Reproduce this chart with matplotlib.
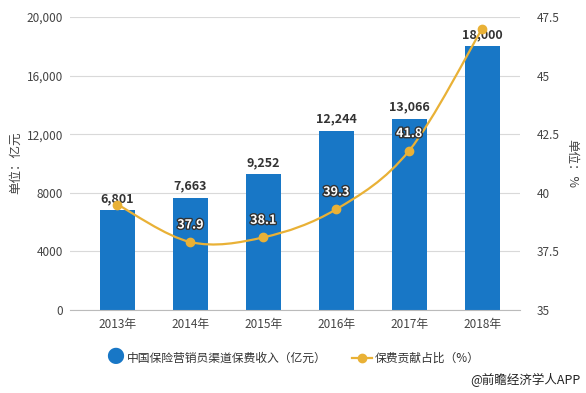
import matplotlib.pyplot as plt
from matplotlib.path import Path
from matplotlib.patches import PathPatch
import matplotlib.patheffects as pe
import numpy as np

plt.rcParams['font.family'] = ['Noto Sans CJK SC', 'DejaVu Sans']

years = ['2013年', '2014年', '2015年', '2016年', '2017年', '2018年']
income = [6801, 7663, 9252, 12244, 13066, 18000]
ratio = [39.5, 37.9, 38.1, 39.3, 41.8, 47.0]
left_ticks = [0, 4000, 8000, 12000, 16000, 20000]
left_labels = ['0', '4000', '8000', '12,000', '16,000', '20,000']
right_ticks = [35, 37.5, 40, 42.5, 45, 47.5]
right_labels = ['35', '37.5', '40', '42.5', '45', '47.5']

bar_color = '#1877c6'
line_color = '#e9b136'
text_color = '#444444'

fig = plt.figure(figsize=(5.86, 3.93), dpi=100)
ax = fig.add_axes([0.1195, 0.211, 0.768, 0.746])
x = np.arange(len(years))

ax.bar(x, income, width=0.48, color=bar_color, zorder=2)
for xi, v in zip(x, income):
    ax.text(xi, v + 350, f'{v:,}', ha='center', va='bottom', fontsize=9,
            fontweight='bold', color='#333333', zorder=5)

ax.set_ylim(0, 20000)
ax.set_xlim(-0.65, 5.52)
ax.set_yticks(left_ticks)
ax.set_yticklabels(left_labels)
ax.set_xticks(x)
ax.set_xticklabels(years)
ax.grid(axis='y', color='#d9d9d9', linewidth=0.8, zorder=0)
ax.tick_params(axis='both', length=0, labelsize=8.5, colors=text_color)
ax.tick_params(axis='y', pad=5)
ax.tick_params(axis='x', pad=6)
for s in ['top', 'right', 'left']:
    ax.spines[s].set_visible(False)
ax.spines['bottom'].set_color('#bbbbbb')

ax2 = ax.twinx()
ax2.set_ylim(35, 47.5)
ax2.set_yticks(right_ticks)
ax2.set_yticklabels(right_labels)
ax2.tick_params(axis='y', length=0, labelsize=8.5, colors=text_color, pad=12)
for s in ax2.spines.values():
    s.set_visible(False)

fig.text(0.026, 0.585, '单位：亿元', fontsize=9, color=text_color,
         rotation=90, ha='center', va='center')
fig.text(0.975, 0.585, '单位：%', fontsize=9, color=text_color,
         rotation=270, ha='center', va='center')

# smooth curve through the points (Catmull-Rom as cubic Bezier)
pts = np.column_stack([x, ratio]).astype(float)
verts = [tuple(pts[0])]
codes = [Path.MOVETO]
for i in range(len(pts) - 1):
    p0 = pts[i - 1] if i > 0 else pts[i]
    p1, p2 = pts[i], pts[i + 1]
    p3 = pts[i + 2] if i + 2 < len(pts) else pts[i + 1]
    c1 = p1 + (p2 - p0) / 6
    c2 = p2 - (p3 - p1) / 6
    verts += [tuple(c1), tuple(c2), tuple(p2)]
    codes += [Path.CURVE4] * 3
ax2.add_patch(PathPatch(Path(verts, codes), fill=False, edgecolor=line_color,
                        linewidth=1.6, zorder=3))
ax2.plot(x, ratio, 'o', color=line_color, markersize=6, zorder=4)
for xi, v in zip(x[1:-1], ratio[1:-1]):
    ax2.text(xi, v + 0.45, f'{v}', ha='center', va='bottom', fontsize=9,
             fontweight='bold', color='white', zorder=5,
             path_effects=[pe.withStroke(linewidth=2, foreground='#333333')])

# legend
ly = 0.089
fig.text(0.196, ly, '●', fontsize=13, color=bar_color, ha='center', va='center')
fig.text(0.217, ly, '中国保险营销员渠道保费收入（亿元）', fontsize=8.5,
         color='#333333', ha='left', va='center')
fig.lines.append(plt.Line2D([0.6, 0.634], [ly, ly], transform=fig.transFigure,
                            color=line_color, linewidth=1.6))
fig.lines.append(plt.Line2D([0.617], [ly], transform=fig.transFigure,
                            marker='o', color=line_color, markersize=6))
fig.text(0.64, ly, '保费贡献占比（%）', fontsize=8.5, color='#333333',
         ha='left', va='center')
fig.text(0.99, 0.033, '@前瞻经济学人APP', fontsize=9, color='#222222',
         ha='right', va='center')

fig.savefig('out.png', dpi=100)
